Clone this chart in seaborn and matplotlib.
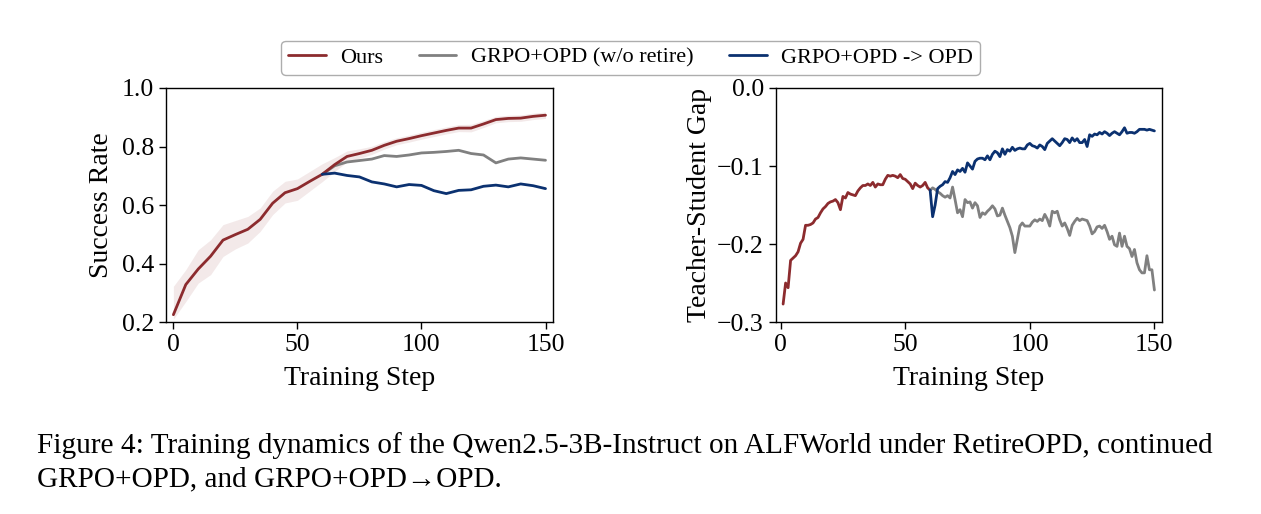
import matplotlib
matplotlib.use("Agg")
import matplotlib.pyplot as plt
from matplotlib.lines import Line2D
import seaborn as sns
import pandas as pd

# ---------------- data ----------------
# Left panel: success rate, every 5 steps
left_steps = [0, 5, 10, 15, 20, 25, 30, 35, 40, 45, 50, 55, 60, 65, 70, 75,
              80, 85, 90, 95, 100, 105, 110, 115, 120, 125, 130, 135, 140, 145, 150]
ours_sr = [0.225, 0.328, 0.381, 0.425, 0.480, 0.499, 0.517, 0.551, 0.606, 0.642, 0.656,
           0.681, 0.705, 0.738, 0.766, 0.776, 0.787, 0.804, 0.818, 0.827, 0.837, 0.846,
           0.855, 0.863, 0.863, 0.877, 0.892, 0.896, 0.897, 0.903, 0.907]
ours_sr_hi = [0.322, 0.379, 0.447, 0.481, 0.533, 0.547, 0.561, 0.590, 0.647, 0.681, 0.689,
              0.715, 0.741, 0.762, 0.785, 0.792, 0.801, 0.817, 0.830, 0.839, 0.849, 0.858,
              0.867, 0.875, 0.876, 0.889, 0.903, 0.907, 0.908, 0.914, 0.918]
ours_sr_lo = [0.210, 0.270, 0.333, 0.362, 0.424, 0.450, 0.470, 0.510, 0.567, 0.607, 0.616,
              0.648, 0.680, 0.714, 0.748, 0.760, 0.773, 0.791, 0.806, 0.815, 0.825, 0.834,
              0.843, 0.851, 0.850, 0.865, 0.881, 0.885, 0.886, 0.892, 0.896]
noretire_sr = [0.705, 0.734, 0.747, 0.752, 0.757, 0.769, 0.766, 0.771, 0.778, 0.780,
               0.783, 0.787, 0.776, 0.771, 0.744, 0.757, 0.761, 0.757, 0.753]
toopd_sr = [0.705, 0.709, 0.701, 0.696, 0.679, 0.672, 0.662, 0.670, 0.667, 0.649,
            0.639, 0.650, 0.652, 0.664, 0.668, 0.662, 0.672, 0.666, 0.656]

# Right panel: teacher-student gap, every step
ours_gap = [-0.277, -0.250, -0.256, -0.221, -0.218, -0.215, -0.210, -0.199, -0.194, -0.176,
            -0.176, -0.175, -0.173, -0.168, -0.166, -0.160, -0.155, -0.152, -0.148, -0.146,
            -0.145, -0.143, -0.147, -0.156, -0.139, -0.141, -0.134, -0.136, -0.137, -0.138,
            -0.132, -0.128, -0.125, -0.125, -0.123, -0.125, -0.121, -0.127, -0.123, -0.124,
            -0.124, -0.117, -0.112, -0.113, -0.112, -0.113, -0.115, -0.111, -0.116, -0.117,
            -0.120, -0.123, -0.129, -0.122, -0.125, -0.127, -0.125, -0.121, -0.128, -0.131]
noretire_gap = [-0.131, -0.128, -0.130, -0.133, -0.135, -0.138, -0.140, -0.138, -0.141, -0.127,
                -0.143, -0.160, -0.156, -0.165, -0.143, -0.147, -0.146, -0.154, -0.147, -0.151,
                -0.166, -0.160, -0.162, -0.158, -0.155, -0.151, -0.155, -0.164, -0.163, -0.154,
                -0.163, -0.171, -0.179, -0.190, -0.211, -0.194, -0.177, -0.173, -0.177, -0.177,
                -0.177, -0.172, -0.169, -0.171, -0.168, -0.170, -0.162, -0.168, -0.177, -0.158,
                -0.160, -0.158, -0.169, -0.177, -0.173, -0.180, -0.189, -0.176, -0.171, -0.167,
                -0.170, -0.168, -0.169, -0.170, -0.177, -0.187, -0.184, -0.178, -0.177, -0.180,
                -0.176, -0.184, -0.194, -0.190, -0.201, -0.203, -0.186, -0.203, -0.190, -0.203,
                -0.206, -0.216, -0.207, -0.224, -0.233, -0.237, -0.237, -0.215, -0.233, -0.233,
                -0.259]
toopd_gap = [-0.131, -0.165, -0.150, -0.129, -0.126, -0.124, -0.120, -0.121, -0.115, -0.107,
             -0.111, -0.105, -0.107, -0.103, -0.108, -0.096, -0.100, -0.104, -0.094, -0.091,
             -0.090, -0.090, -0.092, -0.087, -0.092, -0.085, -0.081, -0.083, -0.088, -0.078,
             -0.085, -0.079, -0.081, -0.076, -0.080, -0.078, -0.077, -0.078, -0.078, -0.073,
             -0.071, -0.074, -0.075, -0.077, -0.073, -0.075, -0.079, -0.071, -0.068, -0.065,
             -0.068, -0.071, -0.074, -0.070, -0.065, -0.066, -0.070, -0.064, -0.068, -0.065,
             -0.070, -0.070, -0.066, -0.075, -0.060, -0.062, -0.059, -0.060, -0.057, -0.059,
             -0.056, -0.058, -0.061, -0.058, -0.056, -0.058, -0.060, -0.056, -0.051, -0.058,
             -0.057, -0.057, -0.058, -0.056, -0.053, -0.053, -0.053, -0.054, -0.053, -0.054,
             -0.055]

labels = ["Ours", "GRPO+OPD (w/o retire)", "GRPO+OPD -> OPD"]
colors = ["#8C2B2E", "#808080", "#0B3170"]
retire_step = 60

# ---------------- style ----------------
sns.set_theme(style="ticks")
plt.rcParams["font.family"] = ["Liberation Serif", "DejaVu Serif"]
plt.rcParams["mathtext.fontset"] = "stix"
plt.rcParams["axes.edgecolor"] = "black"
plt.rcParams["axes.linewidth"] = 1.0
plt.rcParams["xtick.color"] = "black"
plt.rcParams["ytick.color"] = "black"
plt.rcParams["xtick.labelcolor"] = "black"
plt.rcParams["ytick.labelcolor"] = "black"
plt.rcParams["text.color"] = "black"
plt.rcParams["axes.labelcolor"] = "black"

LABEL_FS = 20
TICK_FS = 18.5
LEGEND_FS = 16

fig = plt.figure(figsize=(12.61, 5.14), dpi=100)
ax1 = fig.add_axes([0.1316, 0.3735, 0.3069, 0.4553])
ax2 = fig.add_axes([0.6151, 0.3735, 0.3063, 0.4553])

# left panel
ax1.fill_between(left_steps, ours_sr_lo, ours_sr_hi, color=colors[0], alpha=0.10, linewidth=0)
df_l_ours = pd.DataFrame({"step": left_steps, "val": ours_sr})
nr_steps = [s for s in left_steps if s >= retire_step]
df_l_nr = pd.DataFrame({"step": nr_steps, "val": noretire_sr})
df_l_op = pd.DataFrame({"step": nr_steps, "val": toopd_sr})
sns.lineplot(data=df_l_nr, x="step", y="val", ax=ax1, color=colors[1], linewidth=2)
sns.lineplot(data=df_l_ours, x="step", y="val", ax=ax1, color=colors[0], linewidth=2)
sns.lineplot(data=df_l_op, x="step", y="val", ax=ax1, color=colors[2], linewidth=2)
ax1.set_ylim(0.2, 1.0)
ax1.set_yticks([0.2, 0.4, 0.6, 0.8, 1.0])
ax1.set_ylabel("Success Rate", fontsize=LABEL_FS, labelpad=6)

# right panel
ours_steps = list(range(1, 1 + len(ours_gap)))
after_steps = list(range(retire_step, retire_step + len(toopd_gap)))
df_r_ours = pd.DataFrame({"step": ours_steps, "val": ours_gap})
df_r_nr = pd.DataFrame({"step": after_steps, "val": noretire_gap})
df_r_op = pd.DataFrame({"step": after_steps, "val": toopd_gap})
sns.lineplot(data=df_r_ours, x="step", y="val", ax=ax2, color=colors[0], linewidth=2)
sns.lineplot(data=df_r_nr, x="step", y="val", ax=ax2, color=colors[1], linewidth=2)
sns.lineplot(data=df_r_op, x="step", y="val", ax=ax2, color=colors[2], linewidth=2)
ax2.set_ylim(-0.3, 0.0)
ax2.set_yticks([-0.3, -0.2, -0.1, 0.0])
ax2.set_ylabel("Teacher-Student Gap", fontsize=LABEL_FS)

for ax in (ax1, ax2):
    ax.set_xticks([0, 50, 100, 150])
    ax.set_xlabel("Training Step", fontsize=LABEL_FS, labelpad=7)
    ax.tick_params(axis="both", labelsize=TICK_FS, direction="out", length=5, width=1,
                   color="black", labelcolor="black", pad=3.5)
    for sp in ax.spines.values():
        sp.set_visible(True)
        sp.set_color("black")
        sp.set_linewidth(1.0)
ax1.set_xlim(-3, 153)
ax2.set_xlim(-2, 153)

handles = [Line2D([0], [0], color=c, linewidth=2) for c in colors]
fig.legend(handles, labels, loc="center", bbox_to_anchor=(0.5, 0.888), ncol=3,
           fontsize=LEGEND_FS, frameon=True, edgecolor="#999999", fancybox=True,
           handlelength=1.7, handletextpad=0.65, columnspacing=1.6, borderpad=0.3,
           labelcolor="black")

fig.text(0.029, 0.118, "Figure 4: Training dynamics of the Qwen2.5-3B-Instruct on ALFWorld under RetireOPD, continued",
         fontsize=21.1, ha="left", va="baseline", color="black",
         family=["Liberation Serif", "DejaVu Serif"])
fig.text(0.029, 0.053, "GRPO+OPD, and GRPO+OPD\u2192OPD.",
         fontsize=21.1, ha="left", va="baseline", color="black",
         family=["Liberation Serif", "DejaVu Serif"])

fig.savefig("out.png", dpi=100, facecolor="white")
